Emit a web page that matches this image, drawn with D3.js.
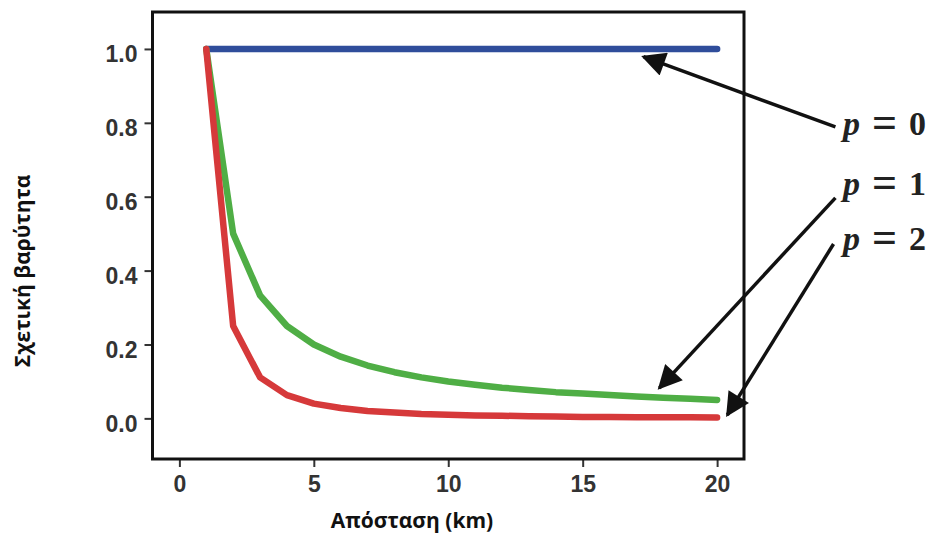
<!DOCTYPE html>
<html lang="en">
<head>
    <meta charset="UTF-8">
    <title>Relative weight vs distance</title>
    <script src="https://d3js.org/d3.v7.min.js"></script>
    <style>
        body { margin: 0; background: white; }
        #canvas { display: block; }
        .tick text { font-family: "Liberation Sans", Arial, sans-serif; font-weight: bold; font-size: 23px; fill: #333; }
        .axisTitle { font-family: "Open Sans", sans-serif; font-weight: bold; font-size: 21px; fill: #111; }
        .pLabel { font-family: "Liberation Serif", "Times New Roman", serif; font-weight: bold; font-size: 34px; fill: #222; }
    </style>
</head>
<body>
    <svg id="canvas" width="935" height="533"></svg>
    <script>
        // distance in km
        let distance = [1,2,3,4,5,6,7,8,9,10,11,12,13,14,15,16,17,18,19,20];
        // relative weight for p = 0, 1, 2
        let weightP0 = [1,1,1,1,1,1,1,1,1,1,1,1,1,1,1,1,1,1,1,1];
        let weightP1 = [1,0.5,0.333,0.25,0.2,0.167,0.143,0.125,0.111,0.1,0.091,0.083,0.077,0.071,0.067,0.063,0.059,0.056,0.053,0.05];
        let weightP2 = [1,0.25,0.111,0.063,0.04,0.028,0.02,0.016,0.012,0.01,0.008,0.007,0.006,0.005,0.004,0.004,0.003,0.003,0.003,0.0025];
        let xTicks = [0,5,10,15,20];
        let yTicks = [0,0.2,0.4,0.6,0.8,1.0];
        let seriesLabels = ['0','1','2'];
        // arrow start / tip, in data units
        let arrowFrom = [[24.4,0.789],[24.4,0.597],[24.33,0.472]];
        let arrowTo = [[17.26,0.979],[17.85,0.082],[20.38,0.009]];

        let svg = d3.select('svg');
        let margin = {left: 152.5, top: 12, right: 191, bottom: 74};
        let w = 935 - margin.left - margin.right;
        let h = 533 - margin.top - margin.bottom;

        let x = d3.scaleLinear().domain([-1, 21]).range([margin.left, margin.left + w]);
        let y = d3.scaleLinear().domain([-0.11, 1.1]).range([margin.top + h, margin.top]);

        // axes
        let xAxis = svg.append('g')
            .attr('transform', 'translate(0,' + (margin.top + h) + ')')
            .call(d3.axisBottom(x).tickValues(xTicks).tickFormat(d3.format('d')).tickSize(8).tickPadding(9));
        let yAxis = svg.append('g')
            .attr('transform', 'translate(' + margin.left + ',0)')
            .call(d3.axisLeft(y).tickValues(yTicks).tickFormat(d3.format('.1f')).tickSize(8).tickPadding(7));
        svg.selectAll('.domain').remove();
        svg.selectAll('.tick line').attr('stroke', '#333').attr('stroke-width', 2);
        yAxis.selectAll('.tick text').attr('dy', '0.55em');

        // series lines
        let line = d3.line().x(function(d){ return x(d[0]); }).y(function(d){ return y(d[1]); });
        let series = [
            {vals: weightP0, color: '#2f4d9b'},
            {vals: weightP1, color: '#4fae45'},
            {vals: weightP2, color: '#d6393a'}
        ];
        svg.append('g').selectAll('path')
            .data(series)
            .enter()
            .append('path')
            .attr('d', function(s){ return line(d3.zip(distance, s.vals)); })
            .attr('fill', 'none')
            .attr('stroke', function(s){ return s.color; })
            .attr('stroke-width', 6.5)
            .attr('stroke-linejoin', 'round')
            .attr('stroke-linecap', 'round');

        // frame
        svg.append('rect')
            .attr('x', margin.left).attr('y', margin.top)
            .attr('width', w).attr('height', h)
            .attr('fill', 'none').attr('stroke', '#111').attr('stroke-width', 3);

        // arrows
        svg.append('defs').append('marker')
            .attr('id', 'head')
            .attr('viewBox', '0 0 10 10')
            .attr('refX', 9).attr('refY', 5)
            .attr('markerUnits', 'userSpaceOnUse')
            .attr('markerWidth', 30).attr('markerHeight', 24)
            .attr('orient', 'auto')
            .append('path')
            .attr('d', 'M0,0 L10,5 L0,10 Z')
            .attr('fill', '#111');
        svg.append('g').selectAll('line')
            .data(d3.zip(arrowFrom, arrowTo))
            .enter()
            .append('line')
            .attr('x1', function(d){ return x(d[0][0]); })
            .attr('y1', function(d){ return y(d[0][1]); })
            .attr('x2', function(d){ return x(d[1][0]); })
            .attr('y2', function(d){ return y(d[1][1]); })
            .attr('stroke', '#111')
            .attr('stroke-width', 3.5)
            .attr('marker-end', 'url(#head)');

        // p labels
        let labelY = [135, 195, 250];
        let pl = svg.append('g').selectAll('text')
            .data(seriesLabels)
            .enter()
            .append('text')
            .attr('class', 'pLabel')
            .attr('x', 843)
            .attr('y', function(d, i){ return labelY[i]; });
        pl.append('tspan').attr('font-style', 'italic').text('p');
        pl.append('tspan').attr('dx', 12).attr('font-size', '44px').attr('dy', 2).text('=');
        pl.append('tspan').attr('dx', 12).attr('dy', -2).text(function(d){ return d; });

        // axis titles
        svg.append('text')
            .attr('class', 'axisTitle')
            .attr('x', 412).attr('y', 528)
            .attr('text-anchor', 'middle')
            .text('Απόσταση (km)');
        svg.append('text')
            .attr('class', 'axisTitle')
            .attr('transform', 'translate(30,271) rotate(-90)')
            .attr('text-anchor', 'middle')
            .text('Σχετική βαρύτητα');
    </script>
</body>
</html>
